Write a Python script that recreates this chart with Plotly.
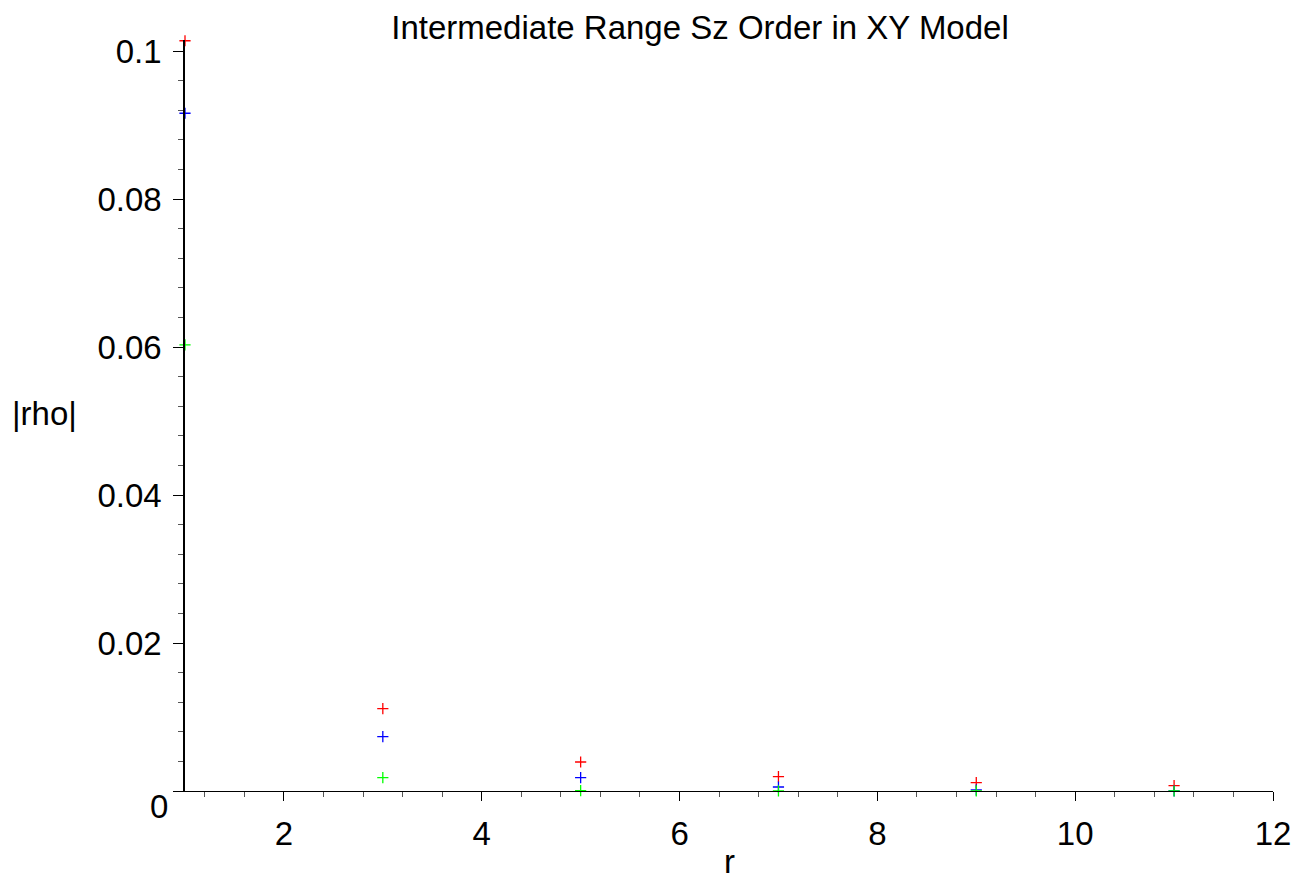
import plotly.graph_objects as go

r = [1, 3, 5, 7, 9, 11]
rho_red = [0.1014, 0.01112, 0.00392, 0.00193, 0.00112, 0.00072]
rho_blue = [0.0916, 0.00734, 0.0018, 0.00054, 0.00014, 0.00003]
rho_green = [0.0603, 0.0018, 0.00004, 0.00002, 0.00001, 0.0]

y_ticks = [0, 0.02, 0.04, 0.06, 0.08, 0.1]
y_ticktext = ["", "0.02", "0.04", "0.06", "0.08", "0.1"]
x_ticks = [2, 4, 6, 8, 10, 12]
x_ticktext = ["2", "4", "6", "8", "10", "12"]

FONT = "Liberation Sans, Arial, sans-serif"
FS = 33

fig = go.Figure()
for vals, col in [(rho_red, "#ff0000"), (rho_blue, "#0000ff"), (rho_green, "#00ff00")]:
    fig.add_trace(go.Scatter(
        x=r, y=vals, mode="markers", cliponaxis=False, showlegend=False,
        marker=dict(symbol="cross-thin", size=8, line=dict(color=col, width=1.3), color=col),
    ))

fig.update_layout(
    width=1310, height=879,
    margin=dict(l=185, r=37, t=40, b=88),
    paper_bgcolor="white", plot_bgcolor="white",
    font=dict(family=FONT, size=FS, color="black"),
    title=dict(text="Intermediate Range Sz Order in XY Model",
               x=(700 - 185) / 1088, xref="paper", xanchor="center",
               y=1 - 27 / 879, yref="container", yanchor="middle",
               font=dict(size=FS, family=FONT, color="black")),
    xaxis=dict(range=[1, 12], showgrid=False, zeroline=False,
               showline=True, linecolor="black", linewidth=1,
               tickmode="array", tickvals=x_ticks, ticktext=x_ticktext,
               ticks="outside", ticklen=9, tickcolor="black", tickwidth=1,
               ticklabelstandoff=4,
               tickfont=dict(size=FS, family=FONT),
               minor=dict(dtick=0.4, tick0=0, ticks="outside", ticklen=5,
                          tickcolor="#555", tickwidth=1, showgrid=False)),
    yaxis=dict(range=[0, 0.1015], showgrid=False, zeroline=False,
               showline=True, linecolor="black", linewidth=1.5,
               tickmode="array", tickvals=y_ticks, ticktext=y_ticktext,
               ticks="outside", ticklen=10, tickcolor="black", tickwidth=1,
               ticklabelstandoff=5,
               tickfont=dict(size=FS, family=FONT),
               minor=dict(dtick=0.004, tick0=0, ticks="outside", ticklen=5,
                          tickcolor="#555", tickwidth=1, showgrid=False)),
    annotations=[
        dict(text="0", x=0, y=0, xref="paper", yref="y", xanchor="right", yanchor="middle",
             xshift=-15, yshift=-15, showarrow=False, font=dict(size=FS, family=FONT)),
        dict(text="|rho|", x=(44 - 185) / 1088, y=(791 - 413) / 751, xref="paper", yref="paper",
             xanchor="center", yanchor="middle", showarrow=False, font=dict(size=FS, family=FONT)),
        dict(text="r", x=(729 - 185) / 1088, y=-(862 - 791) / 751, xref="paper", yref="paper",
             xanchor="center", yanchor="middle", showarrow=False, font=dict(size=FS, family=FONT)),
    ],
)

fig.write_html("out.html")
